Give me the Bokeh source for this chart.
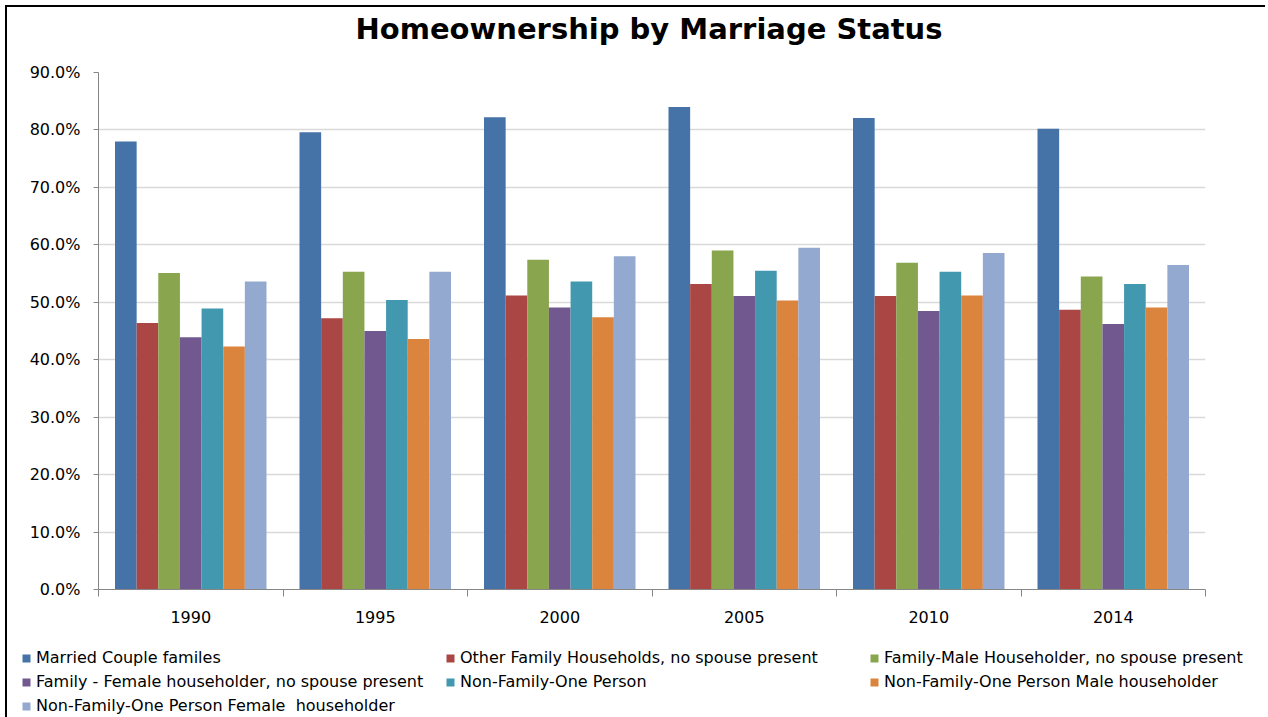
from bokeh.plotting import figure
from bokeh.layouts import column
from bokeh.models import (Range1d, FixedTicker, Legend, LegendItem, ColumnDataSource,
                          PrintfTickFormatter, Label)
from bokeh.transform import dodge
from bokeh.embed import file_html
from bokeh.resources import INLINE

title_text = "Homeownership by Marriage Status"
years = ["1990", "1995", "2000", "2005", "2010", "2014"]
series_names = [
    "Married Couple familes",
    "Other Family Households, no spouse present",
    "Family-Male Householder, no spouse present",
    "Family - Female householder, no spouse present",
    "Non-Family-One Person",
    "Non-Family-One Person Male householder",
    "Non-Family-One Person Female  householder",
]
married = [78.0, 79.6, 82.2, 84.0, 82.1, 80.2]
other_family = [46.4, 47.2, 51.2, 53.2, 51.1, 48.7]
male_family = [55.1, 55.3, 57.4, 59.0, 56.9, 54.5]
female_family = [43.9, 45.0, 49.1, 51.1, 48.5, 46.2]
one_person = [48.9, 50.4, 53.6, 55.5, 55.3, 53.2]
one_male = [42.3, 43.6, 47.4, 50.3, 51.2, 49.1]
one_female = [53.6, 55.3, 58.0, 59.5, 58.6, 56.5]
y_ticks = [0, 10, 20, 30, 40, 50, 60, 70, 80, 90]

colors = ["#4572A7", "#AA4643", "#89A54E", "#71588F", "#4198AF", "#DB843D", "#93A9CF"]
series = [married, other_family, male_family, female_family, one_person, one_male, one_female]

FONT = "DejaVu Sans"
n = len(years)
centers = [i + 0.5 for i in range(n)]
bounds = [float(i) for i in range(n + 1)]

data = {"x": centers}
for k, s in enumerate(series):
    data[f"s{k}"] = s
source = ColumnDataSource(data)

W = 1258
TH = 50

# title strip
t = figure(width=W, height=TH, x_range=Range1d(0, W), y_range=Range1d(0, TH),
           output_backend="svg", toolbar_location=None,
           min_border_left=0, min_border_right=0, min_border_top=0, min_border_bottom=0)
t.frame_align = False
t.axis.visible = False
t.grid.visible = False
t.outline_line_color = None
t.background_fill_color = "white"
t.border_fill_color = "white"
t.add_layout(Label(x=641.5, y=29, text=title_text, text_align="center",
                   text_baseline="alphabetic", text_font=FONT, text_font_size="29px",
                   text_font_style="bold", text_color="black"))

# main chart
p = figure(width=W, height=577, x_range=Range1d(0, n), y_range=Range1d(0, 90),
           output_backend="svg", toolbar_location=None,
           min_border_left=91, min_border_right=60, min_border_top=15, min_border_bottom=45)
p.frame_align = False
p.outline_line_color = None
p.background_fill_color = "white"
p.border_fill_color = "white"

bw = 0.1173
for k, s in enumerate(series):
    off = (k - 3) * bw
    p.vbar(x=dodge("x", off, range=p.x_range), top=f"s{k}", width=bw, source=source,
           fill_color=colors[k], line_color=None)

p.xgrid.grid_line_color = None
p.ygrid.grid_line_color = "#D9D9D9"
p.ygrid.grid_line_width = 1.5

p.yaxis.ticker = FixedTicker(ticks=y_ticks)
p.yaxis.formatter = PrintfTickFormatter(format="%.1f%%")
p.yaxis.axis_line_color = "#868686"
p.yaxis.major_tick_line_color = "#868686"
p.yaxis.major_tick_out = 5
p.yaxis.major_tick_in = 0
p.yaxis.minor_tick_line_color = None
p.yaxis.major_label_text_font = FONT
p.yaxis.major_label_text_font_size = "16px"
p.yaxis.major_label_text_color = "black"
p.yaxis.major_label_standoff = 13

p.xaxis.ticker = FixedTicker(ticks=centers, minor_ticks=bounds)
p.xaxis.major_label_overrides = {c: y for c, y in zip(centers, years)}
p.xaxis.axis_line_color = "#868686"
p.xaxis.major_tick_line_color = None
p.xaxis.major_tick_out = 0
p.xaxis.major_tick_in = 0
p.xaxis.minor_tick_line_color = "#868686"
p.xaxis.minor_tick_out = 7
p.xaxis.minor_tick_in = 0
p.xaxis.major_label_text_font = FONT
p.xaxis.major_label_text_font_size = "16px"
p.xaxis.major_label_text_color = "black"
p.xaxis.major_label_standoff = 14

# legend strip under the chart; its bars sit outside its visible range
q = figure(width=W, height=83, x_range=Range1d(-3, -2), y_range=Range1d(0, 1),
           output_backend="svg", toolbar_location=None,
           min_border_left=0, min_border_right=0, min_border_top=0, min_border_bottom=0)
q.frame_align = False
q.axis.visible = False
q.grid.visible = False
q.outline_line_color = None
q.background_fill_color = "white"
q.border_fill_color = "white"

items = []
for k, name in enumerate(series_names):
    r = q.vbar(x="x", top=f"s{k}", width=bw, source=source,
               fill_color=colors[k], line_color=None)
    items.append(LegendItem(label=name, renderers=[r]))

legend = Legend(items=items, location="top_left", orientation="horizontal", ncols=3,
                glyph_width=10, glyph_height=10, label_standoff=5, label_width=404,
                label_height=16, spacing=5, padding=0, margin=14,
                border_line_color=None, background_fill_alpha=0,
                label_text_font=FONT, label_text_font_size="16px", label_text_color="black",
                label_text_baseline="middle")
q.add_layout(legend, "center")

layout = column(t, p, q, spacing=0)
layout.styles = {"border-top": "2px solid black", "border-left": "2px solid black",
                 "margin-left": "5px", "margin-top": "5px"}

open("out.html", "w").write(file_html(layout, INLINE))
